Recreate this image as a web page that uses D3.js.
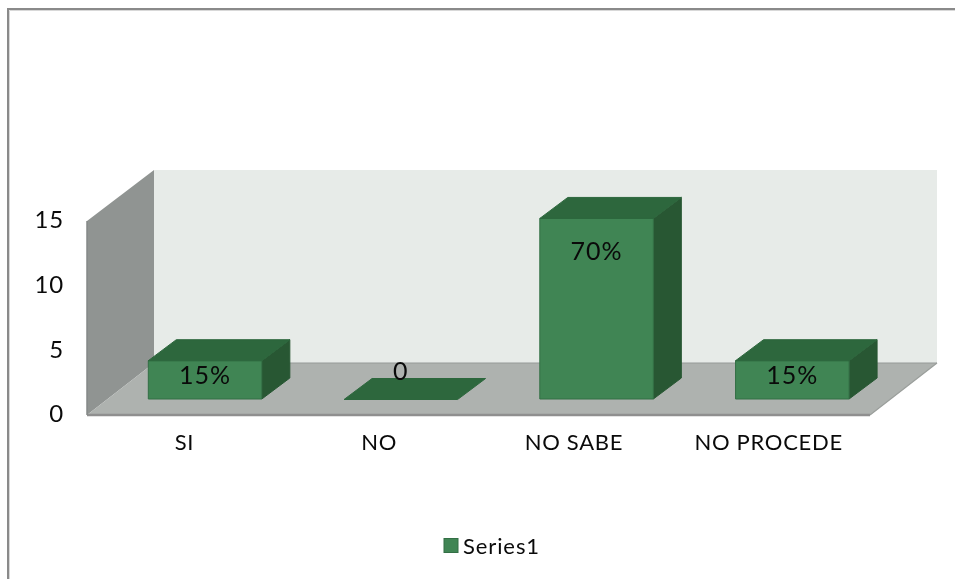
<!DOCTYPE html>
<html><head><meta charset="utf-8">
<script src="https://cdn.jsdelivr.net/npm/d3@7/dist/d3.min.js"></script>
<style>
html,body{margin:0;padding:0;background:#fff;overflow:hidden}
svg{display:block;filter:blur(0.35px)}
text{font-family:Lato,"Open Sans",sans-serif;fill:#0a0a0a}
.tick line,.domain{display:none}
</style></head><body><svg id="c" width="955" height="579"></svg>
<script>
const categories = ["SI","NO","NO SABE","NO PROCEDE"];
const values = [3,0,14,3];
const dataLabels = ["15%","0","70%","15%"];
const yTicks = [0,5,10,15];
const seriesName = "Series1";

const svg = d3.select("#c");
const left=87, right=870, floorY=415, topY=221;
const wallDx=67, wallDy=52, barDx=28, barDy=21, insetDx=20.2, insetDy=16;
const x = d3.scaleBand().domain(categories).range([left,right]).paddingInner(0.42).paddingOuter(0.21);
const y = d3.scaleLinear().domain([0,15]).range([floorY,topY]);
const poly=(pts,fill,stroke)=>svg.append("polygon").attr("points",pts.map(p=>p.join(",")).join(" ")).attr("fill",fill).attr("stroke",stroke||"none");

// frame
svg.append("path").attr("d","M8 579V9H955").attr("fill","none").attr("stroke","#8a8a8a").attr("stroke-width",2);
svg.append("path").attr("d","M9.5 579V10.5H955").attr("fill","none").attr("stroke","#d8d8d8").attr("stroke-width",1);

// walls and floor
poly([[left+wallDx,topY-wallDy+1],[937,topY-wallDy+1],[937,floorY-wallDy],[left+wallDx,floorY-wallDy]],"#e7ebe8");
poly([[left,topY],[left+wallDx,topY-wallDy+1],[left+wallDx,floorY-wallDy],[left,floorY]],"#909492");
poly([[left,floorY],[left+wallDx,floorY-wallDy],[right+wallDx,floorY-wallDy],[right,floorY]],"#aeb2af");
svg.append("line").attr("x1",left+wallDx).attr("x2",right+wallDx).attr("y1",floorY-wallDy).attr("y2",floorY-wallDy).attr("stroke","#969a97").attr("stroke-width",1.2);
svg.append("line").attr("x1",left).attr("x2",right).attr("y1",floorY).attr("y2",floorY).attr("stroke","#8f8f8f").attr("stroke-width",2.4);
svg.append("line").attr("x1",right).attr("x2",right+wallDx).attr("y1",floorY).attr("y2",floorY-wallDy).attr("stroke","#9a9e9b").attr("stroke-width",1.2);
svg.append("line").attr("x1",left).attr("x2",left).attr("y1",topY).attr("y2",floorY).attr("stroke","#858987").attr("stroke-width",1.5);

// bars
categories.forEach((c,i)=>{
  const v=values[i], x0=x(c)+insetDx, x1=x0+x.bandwidth(), base=floorY-insetDy, top=y(v)-insetDy+0.5;
  if(v>0){
    poly([[x1,top],[x1+barDx,top-barDy],[x1+barDx,base-barDy],[x1,base]],"#285733","#285733");
    poly([[x0,base],[x1,base],[x1,top],[x0,top]],"#408554","#336f45");
  }
  poly([[x0,top],[x0+barDx,top-barDy],[x1+barDx,top-barDy],[x1,top]],"#2d673d","#2d673d");
});

// axes
const xLabelScale=d3.scaleBand().domain(categories).range([87,866]);
const xAxis=svg.append("g").attr("transform",`translate(0,${floorY+19})`).call(d3.axisBottom(xLabelScale).tickSize(0));
xAxis.selectAll("text").style("font-size","22px").style("font-family","Lato,sans-serif").style("letter-spacing","0.7px").attr("dy","0.71em").attr("y",0);
const yAxis=svg.append("g").attr("transform","translate(64,-1)").call(d3.axisLeft(y).tickValues(yTicks).tickSize(0).tickPadding(0));
yAxis.selectAll("text").style("font-size","24px").style("font-family","Lato,sans-serif").style("letter-spacing","0.8px");

// data labels
const labelDy=v=>v===0?-28:v<5?15:33;
svg.append("g").selectAll("text").data(categories).join("text")
 .attr("x",(c)=>x(c)+insetDx+x.bandwidth()/2)
 .attr("y",(c,i)=>y(values[i])-insetDy+labelDy(values[i]))
 .attr("dy","0.35em").attr("text-anchor","middle").style("font-size","25px").style("letter-spacing","1px")
 .text((c,i)=>dataLabels[i]);

// legend
svg.append("rect").attr("x",444).attr("y",538.5).attr("width",14).attr("height",14).attr("fill","#408554").attr("stroke","#336f45");
svg.append("text").attr("x",463).attr("y",546).attr("dy","0.35em").style("font-size","22px").style("letter-spacing","0.9px").text(seriesName);
</script></body></html>
